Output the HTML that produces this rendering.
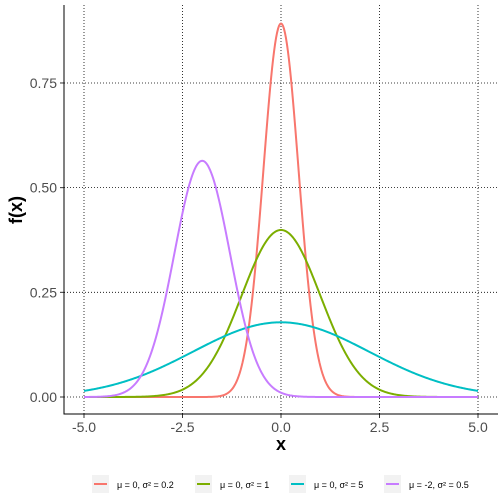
<!DOCTYPE html>
<html><head><meta charset="utf-8"><style>
body{margin:0;background:#fff;font-family:"Liberation Sans",sans-serif}
svg{display:block}
</style></head><body>
<svg id="c" width="504" height="504"></svg>
<script>
const means=[0,0,0,-2];
const variances=[0.2,1,5,0.5];
const labels=["μ = 0, σ² = 0.2","μ = 0, σ² = 1","μ = 0, σ² = 5","μ = -2, σ² = 0.5"];
const colors=["#F8766D","#7CAE00","#00BFC4","#C77CFF"];
const xTicks=[-5,-2.5,0,2.5,5];
const xTickLabels=["-5.0","-2.5","0.0","2.5","5.0"];
const yTicks=[0,0.25,0.5,0.75];
const yTickLabels=["0.00","0.25","0.50","0.75"];
const NS="http://www.w3.org/2000/svg";
const svg=document.getElementById('c');
const X=v=>281+v*39.4;
const Y=v=>397-v*418.7;
function mk(t,a,p){const e=document.createElementNS(NS,t);for(const k in a)e.setAttribute(k,a[k]);(p||svg).appendChild(e);return e;}
const L=64,R=498,T=5,B=414;
xTicks.forEach((t,i)=>{
 const g=mk('line',{x1:X(t),x2:X(t),y1:T,y2:B,stroke:'#000','stroke-width':0.8,'stroke-dasharray':'1,2'});
 
 
 const tk=mk('line',{x1:X(t),x2:X(t),y1:B,y2:B+4,stroke:'#333'});
 
 
 const tx=mk('text',{x:X(t),y:B+18,'text-anchor':'middle','font-size':14,fill:'#4d4d4d'});
 tx.textContent=xTickLabels[i];
 
 
});
yTicks.forEach((t,i)=>{
 const g=mk('line',{x1:L,x2:R,y1:Y(t),y2:Y(t),stroke:'#000','stroke-width':0.8,'stroke-dasharray':'1,2'});
 
 
 const tk=mk('line',{x1:L-4,x2:L,y1:Y(t),y2:Y(t),stroke:'#333'});
 
 
 const tx=mk('text',{x:L-7,y:Y(t)+5,'text-anchor':'end','font-size':14,fill:'#4d4d4d'});
 tx.textContent=yTickLabels[i];
 
 
});
means.forEach((m,i)=>{
 const s2=variances[i];let d='';
 for(let k=0;k<=400;k++){const x=-5+k*10/400;const y=Math.exp(-(x-m)*(x-m)/(2*s2))/Math.sqrt(2*Math.PI*s2);d+=(k?'L':'M')+X(x).toFixed(2)+','+Y(y).toFixed(2);}
 const p=mk('path',{d:d,fill:'none',stroke:colors[i],'stroke-width':2});
 
 
});
const ax=mk('path',{d:`M${L},${T}V${B}H${R}`,fill:'none',stroke:'#000','stroke-width':1});


const xt=mk('text',{x:281,y:450,'text-anchor':'middle','font-size':18,'font-weight':'bold',fill:'#000'});xt.textContent='x';


const yt=mk('text',{x:0,y:0,'text-anchor':'middle','font-size':18,'font-weight':'bold',fill:'#000',transform:'translate(22,210) rotate(-90)'});yt.textContent='f(x)';


const keyX=[92,195,289,384];
labels.forEach((lb,i)=>{
 const g=mk('g',{});
 
 
 mk('rect',{x:keyX[i],y:475,width:17,height:18,fill:'#f2f2f2'},g);
 mk('line',{x1:keyX[i]+2,x2:keyX[i]+15,y1:484,y2:484,stroke:colors[i],'stroke-width':2},g);
 const t=mk('text',{x:keyX[i]+25,y:488,'font-size':9,fill:'#000'},g);t.textContent=lb;
});
</script>
</body></html>
